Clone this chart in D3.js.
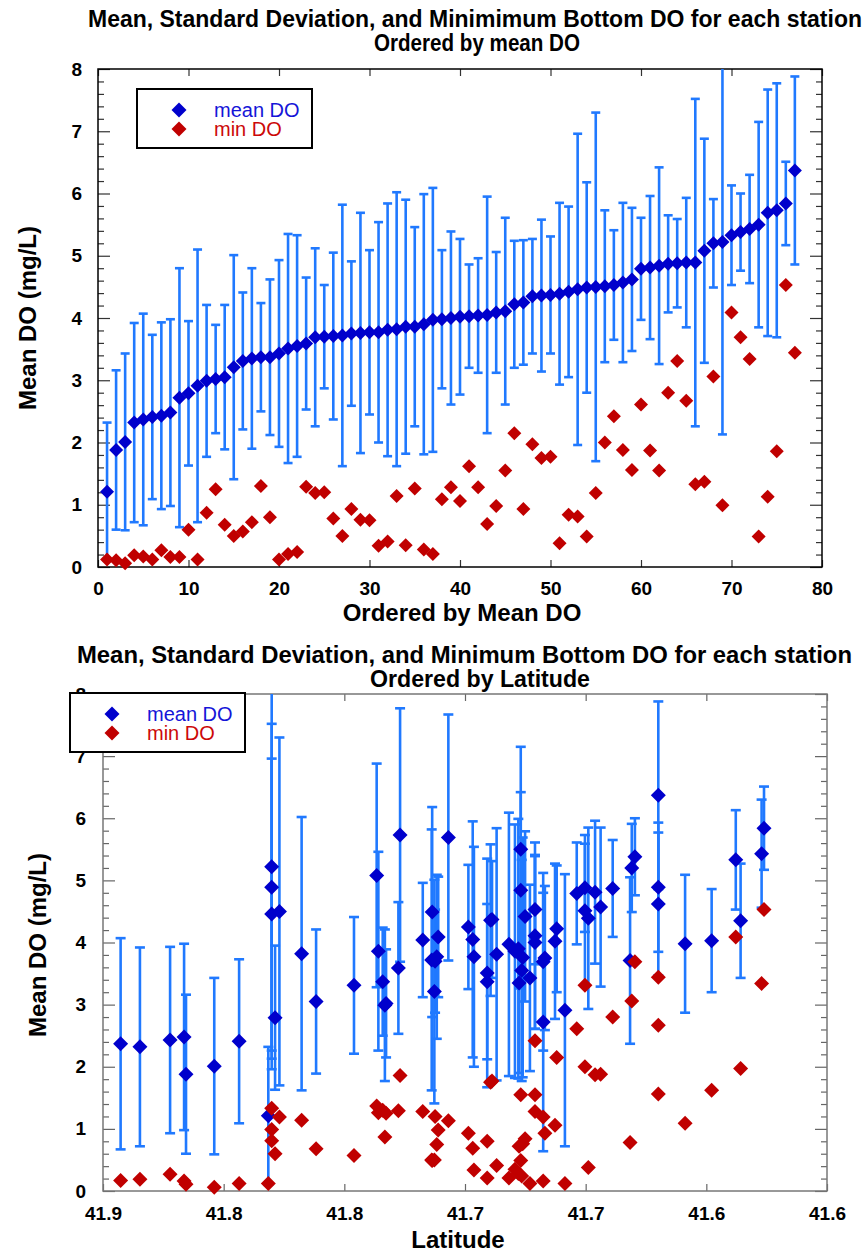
<!DOCTYPE html>
<html><head><meta charset="utf-8">
<script src="https://cdn.jsdelivr.net/npm/d3@7"></script>
<style>
html,body{margin:0;padding:0;background:#fff;}
svg{display:block;}
text{font-family:"Liberation Sans",Arial,Helvetica,sans-serif;}
</style></head><body>
<svg id="chart" width="868" height="1252"></svg>
<script>
// Stations ordered by mean DO (rank 1..77)
const meanDO = [1.21,1.88,2.01,2.32,2.37,2.41,2.43,2.48,2.72,2.79,2.91,2.99,3.02,3.05,3.21,3.31,3.35,3.37,3.37,3.43,3.51,3.55,3.59,3.69,3.70,3.71,3.72,3.75,3.76,3.77,3.77,3.81,3.82,3.86,3.86,3.90,3.97,3.98,4.00,4.02,4.03,4.04,4.05,4.09,4.11,4.22,4.25,4.35,4.36,4.37,4.39,4.42,4.46,4.49,4.50,4.51,4.53,4.57,4.62,4.79,4.81,4.84,4.87,4.88,4.89,4.89,5.08,5.20,5.22,5.33,5.38,5.43,5.50,5.69,5.73,5.84,6.37];
const sdDO = [1.11,1.28,1.42,1.60,1.70,1.32,1.50,1.50,2.08,1.16,2.19,1.22,0.87,1.16,1.80,1.10,1.45,0.87,1.25,1.50,1.84,1.78,1.06,1.43,0.83,1.34,2.10,1.16,1.93,1.32,1.77,2.03,2.20,2.04,1.60,2.09,2.12,1.11,1.39,1.25,0.83,0.92,1.90,0.97,1.50,1.02,1.00,0.92,1.22,0.94,1.46,1.37,2.50,1.69,2.80,1.22,0.88,1.28,1.15,0.82,1.15,1.58,0.78,0.71,1.04,2.63,1.80,0.71,3.09,0.80,0.62,0.87,1.65,1.98,2.04,0.67,1.51];
const minDO = [0.12,0.11,0.06,0.19,0.17,0.12,0.27,0.16,0.16,0.60,0.12,0.87,1.25,0.68,0.50,0.57,0.72,1.30,0.80,0.12,0.21,0.24,1.29,1.19,1.20,0.78,0.50,0.93,0.76,0.75,0.34,0.41,1.14,0.35,1.26,0.28,0.21,1.09,1.28,1.06,1.62,1.28,0.69,0.98,1.55,2.15,0.93,1.97,1.75,1.77,0.38,0.84,0.81,0.49,1.19,2.00,2.42,1.88,1.56,2.61,1.87,1.55,2.80,3.31,2.67,1.33,1.37,3.06,0.99,4.09,3.69,3.34,0.49,1.13,1.86,4.53,3.44];
const latitude = [41.8315,41.8656,41.8539,41.8847,41.8927,41.8436,41.8722,41.8664,41.7176,41.8287,41.7086,41.7832,41.7827,41.8117,41.7627,41.7960,41.7276,41.7841,41.7408,41.7231,41.7408,41.7265,41.7776,41.7176,41.7624,41.6816,41.7638,41.7169,41.7261,41.7617,41.7463,41.7369,41.8177,41.7293,41.7859,41.7279,41.7318,41.6588,41.7210,41.7127,41.6478,41.7675,41.7468,41.7611,41.7210,41.7120,41.7486,41.6358,41.7394,41.7388,41.6989,41.7251,41.8301,41.7636,41.8269,41.7003,41.7210,41.6938,41.6699,41.7037,41.6961,41.7269,41.6888,41.7003,41.6699,41.8301,41.7866,41.6809,41.8301,41.6378,41.6796,41.6271,41.7269,41.7569,41.7769,41.6261,41.6699];

const rankTicks = [0,10,20,30,40,50,60,70,80];
const doTicks = [0,1,2,3,4,5,6,7,8];
const latTicks = [41.9,41.85,41.8,41.75,41.7,41.65,41.6];
const latTickLabels = ["41.9","41.8","41.8","41.7","41.7","41.6","41.6"];
const seriesNames = ["mean DO","min DO"];
const titlesTop = ["Mean, Standard Deviation, and Minimimum Bottom DO for each station","Ordered by mean DO"];
const titlesBottom = ["Mean, Standard Deviation, and Minimum Bottom DO for each station","Ordered by Latitude"];
const yTitle = "Mean DO (mg/L)";
const xTitles = ["Ordered by Mean DO","Latitude"];

const stations = meanDO.map((m,i)=>({rank:i+1, mean:m, sd:sdDO[i], min:minDO[i], lat:latitude[i]}));

const COL_BAR = "#2079FF", COL_MEAN = "#0000CC", COL_MIN = "#C00000";
const svg = d3.select("#chart");
const diamond = r => `M0,${-r}L${r},0L0,${r}L${-r},0Z`;
const minorVals = d3.range(0,41).map(k=>k/5).filter(v=>Math.abs(v-Math.round(v))>1e-6);

function panel(o){
  const g = svg.append("g");
  const x = o.x, y = o.y;
  const [x0,x1] = x.range().slice().sort((a,b)=>a-b);
  const [yt,yb] = [y.range()[1], y.range()[0]];
  const clipId = "clip"+o.id;
  g.append("clipPath").attr("id",clipId).append("rect")
    .attr("x",x0).attr("y",yt).attr("width",x1-x0).attr("height",yb-yt);

  const styleAxis = sel => {
    sel.select(".domain").remove();
    sel.selectAll(".tick line").attr("stroke",o.tickColor).attr("stroke-width",1.2);
    sel.selectAll("text").attr("font-family","Liberation Sans, Arial, sans-serif")
      .attr("font-size",19).attr("font-weight","bold").attr("fill","#000");
  };
  g.append("g").attr("transform",`translate(${x0},0)`)
    .call(d3.axisLeft(y).tickValues(minorVals).tickSize(-6).tickFormat("")).call(styleAxis);
  g.append("g").attr("transform",`translate(${x0},0)`)
    .call(d3.axisLeft(y).tickValues(doTicks).tickSize(-12).tickPadding(o.yPad).tickFormat(d3.format("d"))).call(styleAxis);
  g.append("g").attr("transform",`translate(${x1},0)`)
    .call(d3.axisRight(y).tickValues(minorVals).tickSize(-6).tickFormat("")).call(styleAxis);
  g.append("g").attr("transform",`translate(${x1},0)`)
    .call(d3.axisRight(y).tickValues(doTicks).tickSize(-12).tickFormat("")).call(styleAxis);
  g.append("g").attr("transform",`translate(0,${yb})`)
    .call(d3.axisBottom(x).tickValues(o.xTicks).tickSize(-7).tickPadding(o.xPad).tickFormat(o.xFormat)).call(styleAxis);
  g.append("g").attr("transform",`translate(0,${yt})`)
    .call(d3.axisTop(x).tickValues(o.xTicks).tickSize(-7).tickFormat("")).call(styleAxis);

  g.append("rect").attr("x",x0).attr("y",yt).attr("width",x1-x0).attr("height",yb-yt)
    .attr("fill","none").attr("stroke",o.frameColor).attr("stroke-width",1.5);

  const eb = g.append("g").attr("clip-path",`url(#${clipId})`)
    .attr("stroke",COL_BAR).attr("stroke-width",2.6).attr("fill","none");
  stations.forEach(d=>{
    const cx = x(o.xv(d));
    const ylo = y(d.mean-d.sd), yhi = y(d.mean+d.sd);
    eb.append("line").attr("x1",cx).attr("x2",cx).attr("y1",ylo).attr("y2",yhi);
    eb.append("line").attr("x1",cx-o.cap).attr("x2",cx+o.cap).attr("y1",ylo).attr("y2",ylo);
    eb.append("line").attr("x1",cx-o.cap).attr("x2",cx+o.cap).attr("y1",yhi).attr("y2",yhi);
  });
  g.append("g").selectAll("path").data(stations).join("path")
    .attr("d",diamond(o.r)).attr("transform",d=>`translate(${x(o.xv(d))},${y(d.mean)})`)
    .attr("fill",COL_MEAN);
  g.append("g").selectAll("path").data(stations).join("path")
    .attr("d",diamond(o.r)).attr("transform",d=>`translate(${x(o.xv(d))},${y(d.min)})`)
    .attr("fill",COL_MIN);

  const lg = g.append("g").attr("transform",`translate(${o.legend[0]},${o.legend[1]})`);
  lg.append("rect").attr("width",175).attr("height",59).attr("fill","#fff").attr("stroke","#000").attr("stroke-width",2);
  [COL_MEAN,COL_MIN].forEach((c,i)=>{
    lg.append("path").attr("d",diamond(7.5)).attr("transform",`translate(42,${21+i*19})`).attr("fill",c);
    lg.append("text").attr("x",77).attr("y",28+i*18.5).attr("font-size",20)
      .attr("fill",i===0?"#1515D8":"#CC0808").text(seriesNames[i]);
  });

  o.titles.forEach((t,i)=>{
    g.append("text").attr("x",o.titlePos[i][0]).attr("y",o.titlePos[i][1]).attr("text-anchor","middle")
      .attr("font-size",23).attr("font-weight","bold")
      .attr("textLength",o.titlePos[i][2]).attr("lengthAdjust","spacingAndGlyphs").text(t);
  });
  g.append("text").attr("transform",`translate(${o.yTitlePos[0]},${o.yTitlePos[1]}) rotate(-90)`)
    .attr("text-anchor","middle").attr("font-size",24).attr("font-weight","bold").text(yTitle);
  g.append("text").attr("x",o.xTitlePos[0]).attr("y",o.xTitlePos[1]).attr("text-anchor","middle")
    .attr("font-size",24).attr("font-weight","bold").text(o.xTitle);
}

panel({
  id:"top",
  x: d3.scaleLinear().domain([0,80]).range([98,822]),
  y: d3.scaleLinear().domain([0,8]).range([567,69]),
  xv: d=>d.rank, xTicks: rankTicks, xFormat: d3.format("d"),
  yPad:16, xPad:14.5, cap:4.5, r:7,
  tickColor:"#333", frameColor:"#000",
  legend:[137,89],
  titles: titlesTop, titlePos:[[475,27,774],[477,51,206]],
  yTitlePos:[36,318], xTitlePos:[462,621], xTitle:xTitles[0]
});
panel({
  id:"bot",
  x: d3.scaleLinear().domain([41.9,41.6]).range([103,827]),
  y: d3.scaleLinear().domain([0,8]).range([1191,694]),
  xv: d=>d.lat, xTicks: latTicks, xFormat: (d,i)=>latTickLabels[i],
  yPad:17, xPad:15.5, cap:5, r:7.5,
  tickColor:"#666", frameColor:"#777",
  legend:[70,693],
  titles: titlesBottom, titlePos:[[464.5,663,775],[480,687,220]],
  yTitlePos:[46,945], xTitlePos:[458,1248], xTitle:xTitles[1]
});
</script>
</body></html>
